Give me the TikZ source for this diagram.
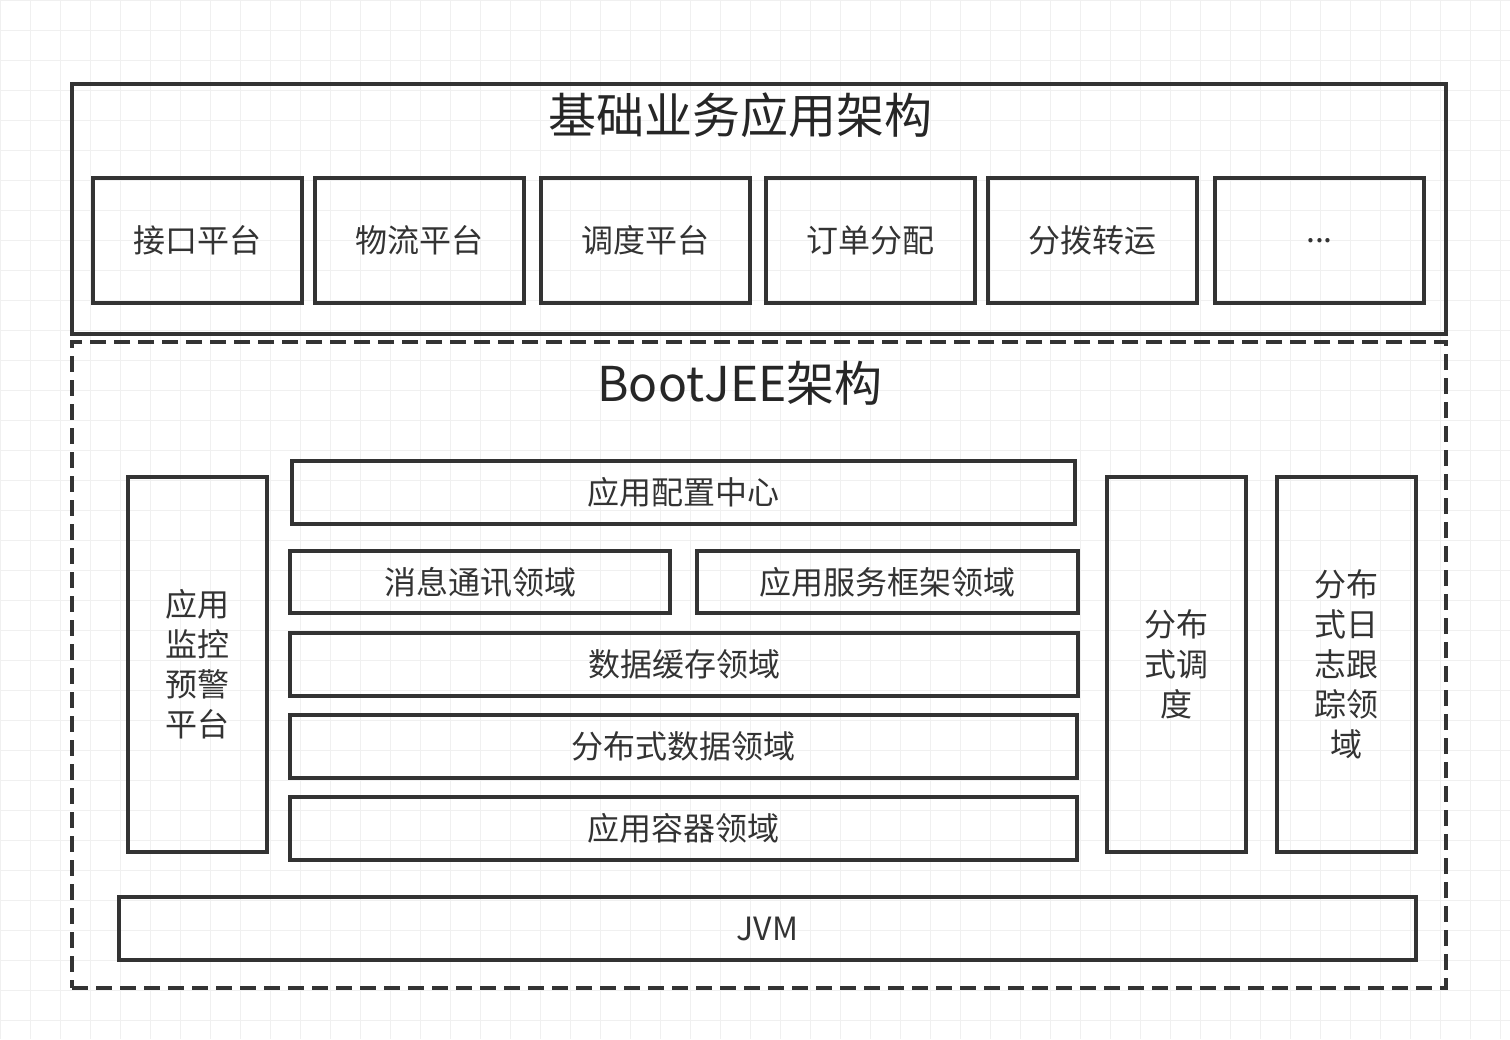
\documentclass[tikz,border=0pt]{standalone}
\usepackage{fontspec}
\setmainfont{Noto Sans CJK SC}
\tikzset{
  box/.style={draw=black!80, line width=1.6pt, inner sep=0pt, align=center, font=\fontsize{16}{20}\selectfont, text=black!80},
  title/.style={font=\fontsize{24}{28}\selectfont, text=black!85},
}
\begin{document}
\begin{tikzpicture}[x=0.5pt,y=-0.5pt]
\useasboundingbox (0,0) rectangle (1510,1039);
\draw[step=15pt,color=gray!12] (0,0) grid (1510,1039);
% top layer
\node[box, minimum width=687pt, minimum height=125pt] (biz) at (759,209) {};
\node[title] (biztitle) at (740,115) {基础业务应用架构};
\node[box, minimum width=104.5pt, minimum height=62.5pt] (api) at (197.5,240.5) {接口平台};
\node[box, minimum width=104.5pt, minimum height=62.5pt] (wl) at (419.5,240.5) {物流平台};
\node[box, minimum width=104.5pt, minimum height=62.5pt] (dd) at (645.5,240.5) {调度平台};
\node[box, minimum width=104.5pt, minimum height=62.5pt] (order) at (870.5,240.5) {订单分配};
\node[box, minimum width=104.5pt, minimum height=62.5pt] (fb) at (1092.5,240.5) {分拨转运};
\node[box, minimum width=104.5pt, minimum height=62.5pt] (more) at (1319.5,240.5) {...};
% BootJEE layer
\node[box, dashed, dash pattern=on 8pt off 4pt, minimum width=687pt, minimum height=323pt] (jee) at (759,665) {};
\node[title] (jeetitle) at (740,383) {BootJEE架构};
\node[box, minimum width=69.5pt, minimum height=187.5pt] (mon) at (197.5,664.5) {应用\\监控\\预警\\平台};
\node[box, minimum width=391.5pt, minimum height=31.5pt] (cfg) at (683.5,492.5) {应用配置中心};
\node[box, minimum width=190pt, minimum height=31pt] (msg) at (480,582) {消息通讯领域};
\node[box, minimum width=190.5pt, minimum height=31pt] (svc) at (887.5,582) {应用服务框架领域};
\node[box, minimum width=394pt, minimum height=31.5pt] (cache) at (684,664.5) {数据缓存领域};
\node[box, minimum width=393.5pt, minimum height=31.5pt] (ddata) at (683.5,746.5) {分布式数据领域};
\node[box, minimum width=393.5pt, minimum height=31.5pt] (ctn) at (683.5,828.5) {应用容器领域};
\node[box, minimum width=69.5pt, minimum height=187.5pt] (sched) at (1176.5,664.5) {分布\\式调\\度};
\node[box, minimum width=69.5pt, minimum height=187.5pt] (trace) at (1346.5,664.5) {分布\\式日\\志跟\\踪领\\域};
\node[box, minimum width=648.5pt, minimum height=31.5pt] (jvm) at (767.5,928.5) {JVM};
\end{tikzpicture}
\end{document}
